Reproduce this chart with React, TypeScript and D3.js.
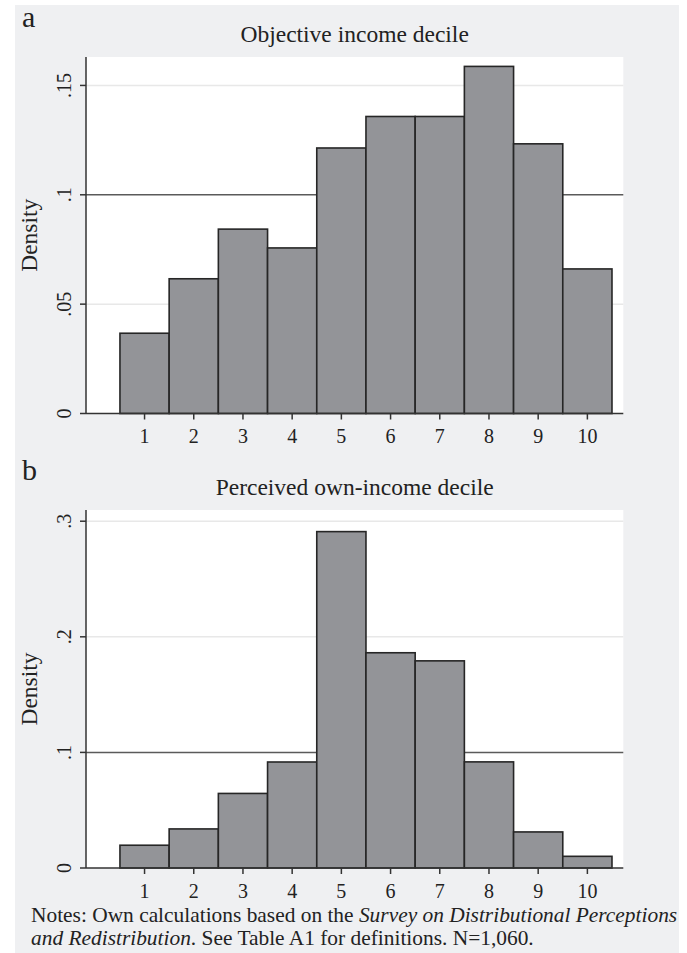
import React from 'react';
import * as d3 from 'd3';

// deciles 1..10
const deciles = [1, 2, 3, 4, 5, 6, 7, 8, 9, 10];
const objectiveDensity = [0.0367, 0.0616, 0.0843, 0.0757, 0.1214, 0.1358, 0.1358, 0.1587, 0.1233, 0.0661];
const perceivedDensity = [0.0197, 0.0338, 0.0645, 0.0917, 0.2910, 0.1862, 0.1792, 0.0918, 0.0312, 0.0101];
const objectiveTicks = [0, 0.05, 0.1, 0.15];
const objectiveTickLabels = ['0', '.05', '.1', '.15'];
const perceivedTicks = [0, 0.1, 0.2, 0.3];
const perceivedTickLabels = ['0', '.1', '.2', '.3'];
const refLine = 0.1;

const W = 687;
const H = 953;
const serif = '"Liberation Serif", "Times New Roman", serif';

const left = 86;
const right = 623.3;

const x = d3.scaleLinear().domain([-0.19, 10.73]).range([left, right]);

type PanelProps = {
  letter: string;
  title: string;
  values: number[];
  ticks: number[];
  tickLabels: string[];
  top: number;
  bottom: number;
  yMax: number;
};

const Panel = ({ letter, title, values, ticks, tickLabels, top, bottom, yMax }: PanelProps) => {
  const y = d3.scaleLinear().domain([0, yMax]).range([bottom, top]);
  const mid = (top + bottom) / 2;
  return (
    <g>
      <text x={22} y={top - 30} fontFamily={serif} fontSize={30} fill="#222">{letter}</text>
      <text x={(left + right) / 2} y={top - 15} textAnchor="middle" fontFamily={serif} fontSize={23.5} fill="#222">
        {title}
      </text>
      <rect x={left} y={top} width={right - left} height={bottom - top} fill="#fff" />
      {/* grid */}
      {ticks.filter(t => t > 0 && t !== refLine).map(t => (
        <line key={t} x1={left} x2={right} y1={y(t)} y2={y(t)} stroke="#e8e8e8" strokeWidth={1.5} />
      ))}
      <line x1={left} x2={right} y1={y(refLine)} y2={y(refLine)} stroke="#5a5a5a" strokeWidth={1.5} />
      {/* bars */}
      {values.map((v, i) => (
        <rect
          key={i}
          x={x(deciles[i] - 0.5)}
          y={y(v)}
          width={x(deciles[i] + 0.5) - x(deciles[i] - 0.5)}
          height={bottom - y(v)}
          fill="#939498"
          stroke="#262626"
          strokeWidth={1.6}
        />
      ))}
      {/* axes */}
      <line x1={left} x2={left} y1={top} y2={bottom} stroke="#333" strokeWidth={1.5} />
      <line x1={left} x2={right} y1={bottom} y2={bottom} stroke="#333" strokeWidth={1.5} />
      {ticks.map((t, i) => (
        <g key={t}>
          <line x1={left - 6} x2={left} y1={y(t)} y2={y(t)} stroke="#333" strokeWidth={1.5} />
          <text
            transform={`translate(71,${y(t)}) rotate(-90)`}
            textAnchor="middle"
            fontFamily={serif}
            fontSize={20}
            fill="#222"
          >
            {tickLabels[i]}
          </text>
        </g>
      ))}
      {deciles.map(d => (
        <g key={d}>
          <line x1={x(d)} x2={x(d)} y1={bottom} y2={bottom + 6} stroke="#333" strokeWidth={1.5} />
          <text x={x(d)} y={bottom + 29.5} textAnchor="middle" fontFamily={serif} fontSize={20} fill="#222">
            {d}
          </text>
        </g>
      ))}
      <text
        transform={`translate(37,${mid}) rotate(-90)`}
        textAnchor="middle"
        fontFamily={serif}
        fontSize={23.5}
        fill="#222"
      >
        Density
      </text>
    </g>
  );
};

export default function App() {
  return (
    <svg width={W} height={H} style={{ position: 'absolute', left: 0, top: 0 }}>
      <rect x={0} y={0} width={W} height={H} fill="#fff" />
      <rect x={15} y={5} width={664} height={H - 5} fill="#eff0f2" />
      <Panel
        letter="a"
        title="Objective income decile"
        values={objectiveDensity}
        ticks={objectiveTicks}
        tickLabels={objectiveTickLabels}
        top={57}
        bottom={413.5}
        yMax={0.163}
      />
      <Panel
        letter="b"
        title="Perceived own-income decile"
        values={perceivedDensity}
        ticks={perceivedTicks}
        tickLabels={perceivedTickLabels}
        top={510}
        bottom={868}
        yMax={0.3097}
      />
      <text x={31} y={922} fontFamily={serif} fontSize={21.4} fill="#222">
        Notes: Own calculations based on the <tspan fontStyle="italic">Survey on Distributional Perceptions</tspan>
      </text>
      <text x={31} y={945} fontFamily={serif} fontSize={21.4} fill="#222">
        <tspan fontStyle="italic">and Redistribution</tspan>. See Table A1 for definitions. N=1,060.
      </text>
    </svg>
  );
}
